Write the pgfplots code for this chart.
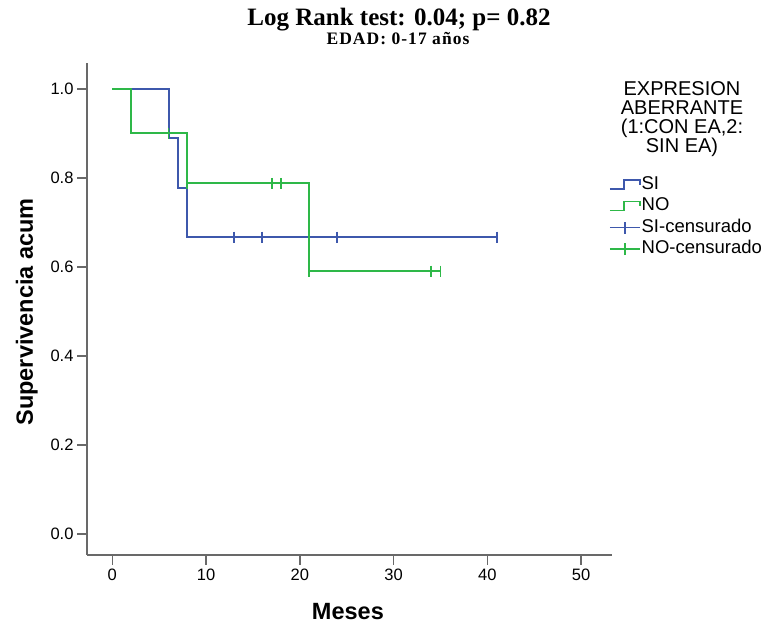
\documentclass[border=0pt]{standalone}
\usepackage{fontspec}
\setmainfont{Liberation Serif}
\setsansfont{Liberation Sans}
\usepackage{pgfplots}
\pgfplotsset{compat=1.18}
\definecolor{siblue}{RGB}{62,88,172}
\definecolor{nogreen}{RGB}{46,184,72}
\definecolor{axgray}{RGB}{105,105,105}
\newcommand\fsz[1]{\fontsize{#1}{#1}\selectfont}
\tikzset{
  stepicon/.style={/pgfplots/legend image code/.code={
      \draw[line width=1.6pt,#1] (0pt,-4.5pt) -- (14pt,-4.5pt) -- (14pt,4.5pt) -- (30pt,4.5pt) -- (30pt,0pt);}},
  censicon/.style={/pgfplots/legend image code/.code={
      \draw[line width=1.6pt,#1] (0pt,0pt) -- (30pt,0pt) (15pt,-6pt) -- (15pt,6pt);}},
}
\begin{document}
\begin{tikzpicture}
\useasboundingbox (0,0) rectangle (764pt,627pt);
\begin{axis}[
  at={(87pt,72pt)}, anchor=south west,
  scale only axis, width=525pt, height=492pt,
  xmin=-2.7, xmax=53.3, ymin=-0.047, ymax=1.058,
  axis x line*=bottom, axis y line*=left,
  axis line style={axgray, line width=1.5pt},
  tick style={axgray, line width=1.5pt},
  tick align=outside, major tick length=10pt,
  xtick={0,10,20,30,40,50}, ytick={0,0.2,0.4,0.6,0.8,1.0},
  yticklabel style={/pgf/number format/.cd, fixed, fixed zerofill, precision=1},
  tick label style={font=\sffamily\fsz{16.5}},
  /pgf/number format/assume math mode=true,
  xlabel={Meses}, ylabel={Supervivencia acum},
  label style={font=\sffamily\bfseries\fsz{23.5}},
  xlabel style={at={(axis description cs:0.497,-0.132)}, anchor=base},
  ylabel style={at={(axis description cs:-0.103,0.494)}, anchor=base},
  clip=false,
  legend cell align=left,
  legend style={at={(axis description cs:0.994,0.773)}, anchor=north west,
    draw=none, fill=none, inner sep=0pt, font=\sffamily\fsz{18.5},
    row sep=2pt,
    nodes={inner sep=1pt, text height=13.5pt, text depth=4pt},
    /tikz/every even column/.append style={column sep=0pt}},
]
% curvas de supervivencia (Kaplan-Meier), escalones explicitos
\addplot[sharp plot, draw=siblue, line width=2.1pt, line join=miter, stepicon=siblue]
  coordinates {(0,1) (6,1) (6,0.8889) (7,0.8889) (7,0.7778) (8,0.7778) (8,0.6667) (41,0.6667)};
\addlegendentry{SI}
\addplot[sharp plot, draw=nogreen, line width=2.1pt, line join=miter, stepicon=nogreen]
  coordinates {(0,1) (2,1) (2,0.9) (8,0.9) (8,0.7875) (21,0.7875) (21,0.5906) (35,0.5906)};
\addlegendentry{NO}
% casos censurados
\addplot[only marks, mark=|, mark size=5.5pt, mark options={draw=siblue, line width=1.8pt}, censicon=siblue]
  coordinates {(13,0.6667) (16,0.6667) (24,0.6667) (41,0.6667)};
\addlegendentry{SI-censurado}
\addplot[only marks, mark=|, mark size=5.5pt, mark options={draw=nogreen, line width=1.8pt}, censicon=nogreen]
  coordinates {(6,0.9) (8,0.7875) (17,0.7875) (18,0.7875) (21,0.5906) (34,0.5906) (35,0.5906)};
\addlegendentry{NO-censurado}
\end{axis}
\node[font=\bfseries\fsz{25}, anchor=base, inner sep=0pt] at (399pt,601pt) {Log Rank test: 0.04; p= 0.82};
\node[font=\bfseries\fsz{17.5}\addfontfeatures{LetterSpace=6}, anchor=base, inner sep=0pt] at (398pt,582.5pt) {EDAD: 0-17 años};
\begin{scope}[every node/.style={font=\sffamily\fsz{20}, anchor=base}]
  \node at (682pt,531.5pt) {EXPRESION};
  \node at (682pt,512.5pt) {ABERRANTE};
  \node at (682pt,493pt) {(1:CON EA,2:};
  \node at (682pt,474.5pt) {SIN EA)};
\end{scope}
\end{tikzpicture}
\end{document}
